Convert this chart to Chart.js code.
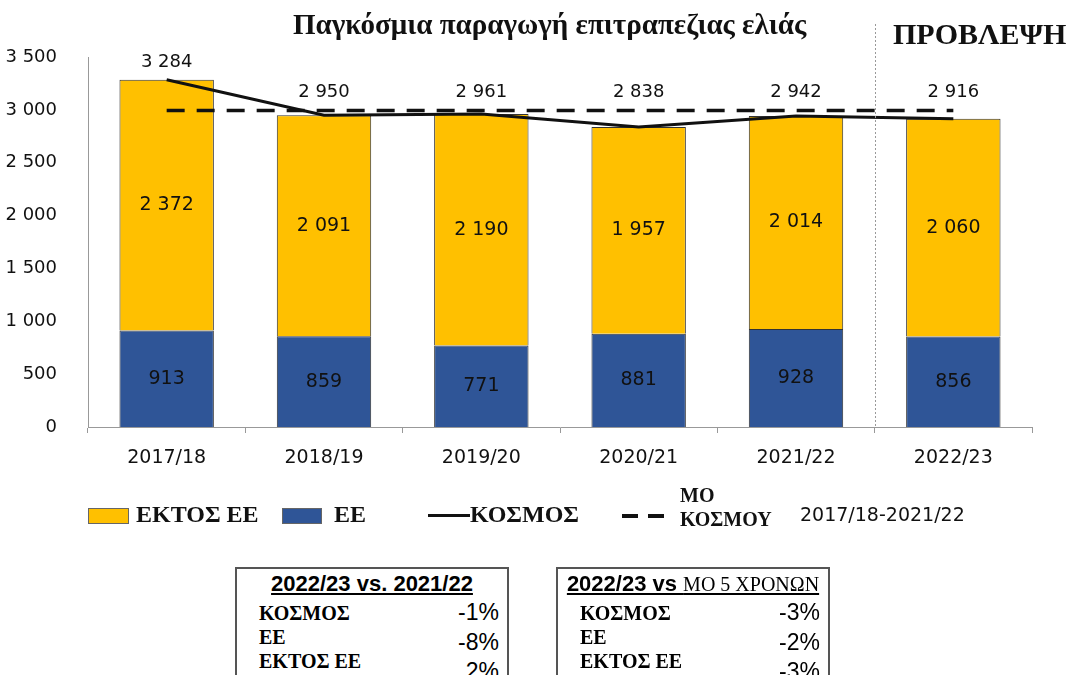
<!DOCTYPE html>
<html>
<head>
<meta charset="utf-8">
<script src="https://cdn.jsdelivr.net/npm/chart.js@4"></script>
<style>
    body { margin: 0; background: #fff; }
    #wrap { position: relative; width: 1068px; height: 675px; overflow: hidden; }
    #chart { position: absolute; left: 0; top: 0; }
    .txt { position: absolute; white-space: nowrap; color: #111; }
    .serif { font-family: 'Liberation Serif', serif; font-weight: bold; }
    .sans { font-family: 'DejaVu Sans', sans-serif; }
    .box { position: absolute; border: 2px solid #555; width: 270px; height: 120px; top: 567px; background: #fff; }
    .box .head { position: absolute; top: 2px; left: 0; right: 0; text-align: center; font-family: 'Liberation Sans', sans-serif; font-weight: bold; font-size: 22px; text-decoration: underline; }
    .box .name { position: absolute; left: 22px; font-family: 'Liberation Serif', serif; font-weight: bold; font-size: 20px; }
    .box .val { position: absolute; right: 8px; font-family: 'Liberation Sans', sans-serif; font-size: 23px; }
</style>
</head>
<body>
<div id="wrap">
    <canvas id="chart" width="1068" height="675"></canvas>
    <div class="txt serif" style="left:293px; top:8px; font-size:29px;">Παγκόσμια παραγωγή επιτραπεζιας ελιάς</div>
    <div class="txt serif" style="left:893px; top:17px; font-size:30px;">ΠΡΟΒΛΕΨΗ</div>
    <div id="legend"></div>
    <div id="tables"></div>
</div>
<script>
    // Δεδομένα (χιλ. τόνοι)
    const categories = ['2017/18', '2018/19', '2019/20', '2020/21', '2021/22', '2022/23'];
    const euValues = [913, 859, 771, 881, 928, 856];
    const nonEuValues = [2372, 2091, 2190, 1957, 2014, 2060];
    const worldValues = [3284, 2950, 2961, 2838, 2942, 2916];
    const worldAverage = [2995, 2995, 2995, 2995, 2995, 2995];
    const yTickValues = [0, 500, 1000, 1500, 2000, 2500, 3000, 3500];

    // Πίνακες σύγκρισης
    const tableRows = ['ΚΟΣΜΟΣ', 'ΕΕ', 'ΕΚΤΟΣ ΕΕ'];
    const vsLastYear = ['-1%', '-8%', '2%'];
    const vsFiveYearAvg = ['-3%', '-2%', '-3%'];

    const YELLOW = '#FFC000';
    const BLUE = '#2F5597';

    function fmt(v) {
        return String(v).replace(/\B(?=(\d{3})+(?!\d))/g, ' ');
    }

    // ετικέτες τιμών
    const valueLabels = {
        id: 'valueLabels',
        afterDatasetsDraw(chart) {
            const ctx = chart.ctx;
            const y = chart.scales.y;
            ctx.save();
            ctx.fillStyle = '#111';
            ctx.textAlign = 'center';
            ctx.textBaseline = 'middle';
            [0, 1].forEach(di => {
                const meta = chart.getDatasetMeta(di);
                meta.data.forEach((bar, i) => {
                    ctx.font = '19px "DejaVu Sans"';
                    ctx.fillText(fmt(chart.data.datasets[di].data[i]), bar.x, (bar.y + bar.base) / 2);
                });
            });
            const lineMeta = chart.getDatasetMeta(2);
            lineMeta.data.forEach((pt, i) => {
                const top = Math.min(pt.y, y.getPixelForValue(worldAverage[i]));
                ctx.font = '18px "DejaVu Sans"';
                ctx.fillText(fmt(worldValues[i]), pt.x, top - 18);
            });
            ctx.restore();
        },
        afterDraw(chart) {
            // διαχωριστική γραμμή πρόβλεψης
            const x = chart.scales.x;
            const px = Math.round((x.getPixelForValue(4) + x.getPixelForValue(5)) / 2) + 0.5;
            const ctx = chart.ctx;
            ctx.save();
            ctx.strokeStyle = '#999';
            ctx.lineWidth = 1;
            ctx.setLineDash([2, 2]);
            ctx.beginPath();
            ctx.moveTo(px, 24);
            ctx.lineTo(px, chart.chartArea.bottom);
            ctx.stroke();
            ctx.restore();
        }
    };

    new Chart(document.getElementById('chart'), {
        type: 'bar',
        data: {
            labels: categories,
            datasets: [
                {
                    label: 'ΕΕ',
                    data: euValues,
                    backgroundColor: BLUE,
                    borderColor: '#333',
                    borderWidth: 1,
                    stack: 'bars',
                    order: 2
                },
                {
                    label: 'ΕΚΤΟΣ ΕΕ',
                    data: nonEuValues,
                    backgroundColor: YELLOW,
                    borderColor: '#333',
                    borderWidth: 1,
                    stack: 'bars',
                    order: 2
                },
                {
                    type: 'line',
                    label: 'ΚΟΣΜΟΣ',
                    data: worldValues,
                    borderColor: '#111',
                    borderWidth: 3,
                    pointRadius: 0,
                    tension: 0,
                    stack: 'world',
                    order: 1
                },
                {
                    type: 'line',
                    label: 'ΜΟ ΚΟΣΜΟΥ 2017/18-2021/22',
                    data: worldAverage,
                    borderColor: '#111',
                    borderWidth: 3.5,
                    borderDash: [18, 12],
                    pointRadius: 0,
                    tension: 0,
                    stack: 'avg',
                    order: 0
                }
            ]
        },
        options: {
            responsive: false,
            animation: false,
            layout: { padding: { top: 57, right: 36, left: 0, bottom: 0 } },
            plugins: {
                legend: { display: false },
                title: { display: false },
                tooltip: { enabled: false }
            },
            datasets: {
                bar: { barPercentage: 0.6, categoryPercentage: 1 }
            },
            scales: {
                x: {
                    stacked: true,
                    offset: true,
                    afterFit: s => { s.height = 248; },
                    grid: { drawOnChartArea: false, offset: true, tickLength: 6, color: '#999' },
                    border: { color: '#999' },
                    ticks: { color: '#111', font: { family: 'DejaVu Sans', size: 19 }, padding: 14 }
                },
                y: {
                    stacked: true,
                    min: 0,
                    max: 3500,
                    afterFit: s => { s.width = 88; },
                    afterBuildTicks: s => { s.ticks = yTickValues.map(v => ({ value: v })); },
                    grid: { display: false },
                    border: { display: true, color: '#999' },
                    ticks: {
                        color: '#111',
                        font: { family: 'DejaVu Sans', size: 18 },
                        padding: 23,
                        callback: v => fmt(v)
                    }
                }
            }
        },
        plugins: [valueLabels]
    });

    // υπόμνημα
    const legend = document.getElementById('legend');
    legend.innerHTML = `
        <div style="position:absolute; left:88px; top:508px; width:39px; height:14px; background:${YELLOW}; border:1px solid #666;"></div>
        <div class="txt serif" style="left:136px; top:501px; font-size:24px;">ΕΚΤΟΣ ΕΕ</div>
        <div style="position:absolute; left:282px; top:508px; width:38px; height:14px; background:${BLUE}; border:1px solid #666;"></div>
        <div class="txt serif" style="left:334px; top:501px; font-size:24px;">ΕΕ</div>
        <div style="position:absolute; left:428px; top:514px; width:42px; height:3px; background:#111;"></div>
        <div class="txt serif" style="left:470px; top:501px; font-size:24px;">ΚΟΣΜΟΣ</div>
        <div style="position:absolute; left:622px; top:514px; width:16px; height:4px; background:#111;"></div>
        <div style="position:absolute; left:648px; top:514px; width:16px; height:4px; background:#111;"></div>
        <div class="txt serif" style="left:680px; top:484px; font-size:20px;">ΜΟ</div>
        <div class="txt serif" style="left:680px; top:508px; font-size:20px;">ΚΟΣΜΟΥ</div>
        <div class="txt sans" style="left:800px; top:503px; font-size:19px;">2017/18-2021/22</div>
    `;

    // πίνακες
    function buildTable(left, headHtml, values) {
        const tops = [[598, 597], [622, 627], [646, 656]];
        let html = `<div class="box" style="left:${left}px;"><div class="head">${headHtml}</div>`;
        tableRows.forEach((name, i) => {
            html += `<div class="name" style="top:${tops[i][0] - 567 + 2}px;">${name}</div>`;
            html += `<div class="val" style="top:${tops[i][1] - 567}px;">${values[i]}</div>`;
        });
        return html + '</div>';
    }
    document.getElementById('tables').innerHTML =
        buildTable(235, '2022/23 vs. 2021/22', vsLastYear) +
        buildTable(556, '2022/23 vs <span style="font-family:\'Liberation Serif\',serif; font-weight:normal; font-size:20px;">ΜΟ 5 ΧΡΟΝΩΝ</span>', vsFiveYearAvg);
</script>
</body>
</html>
